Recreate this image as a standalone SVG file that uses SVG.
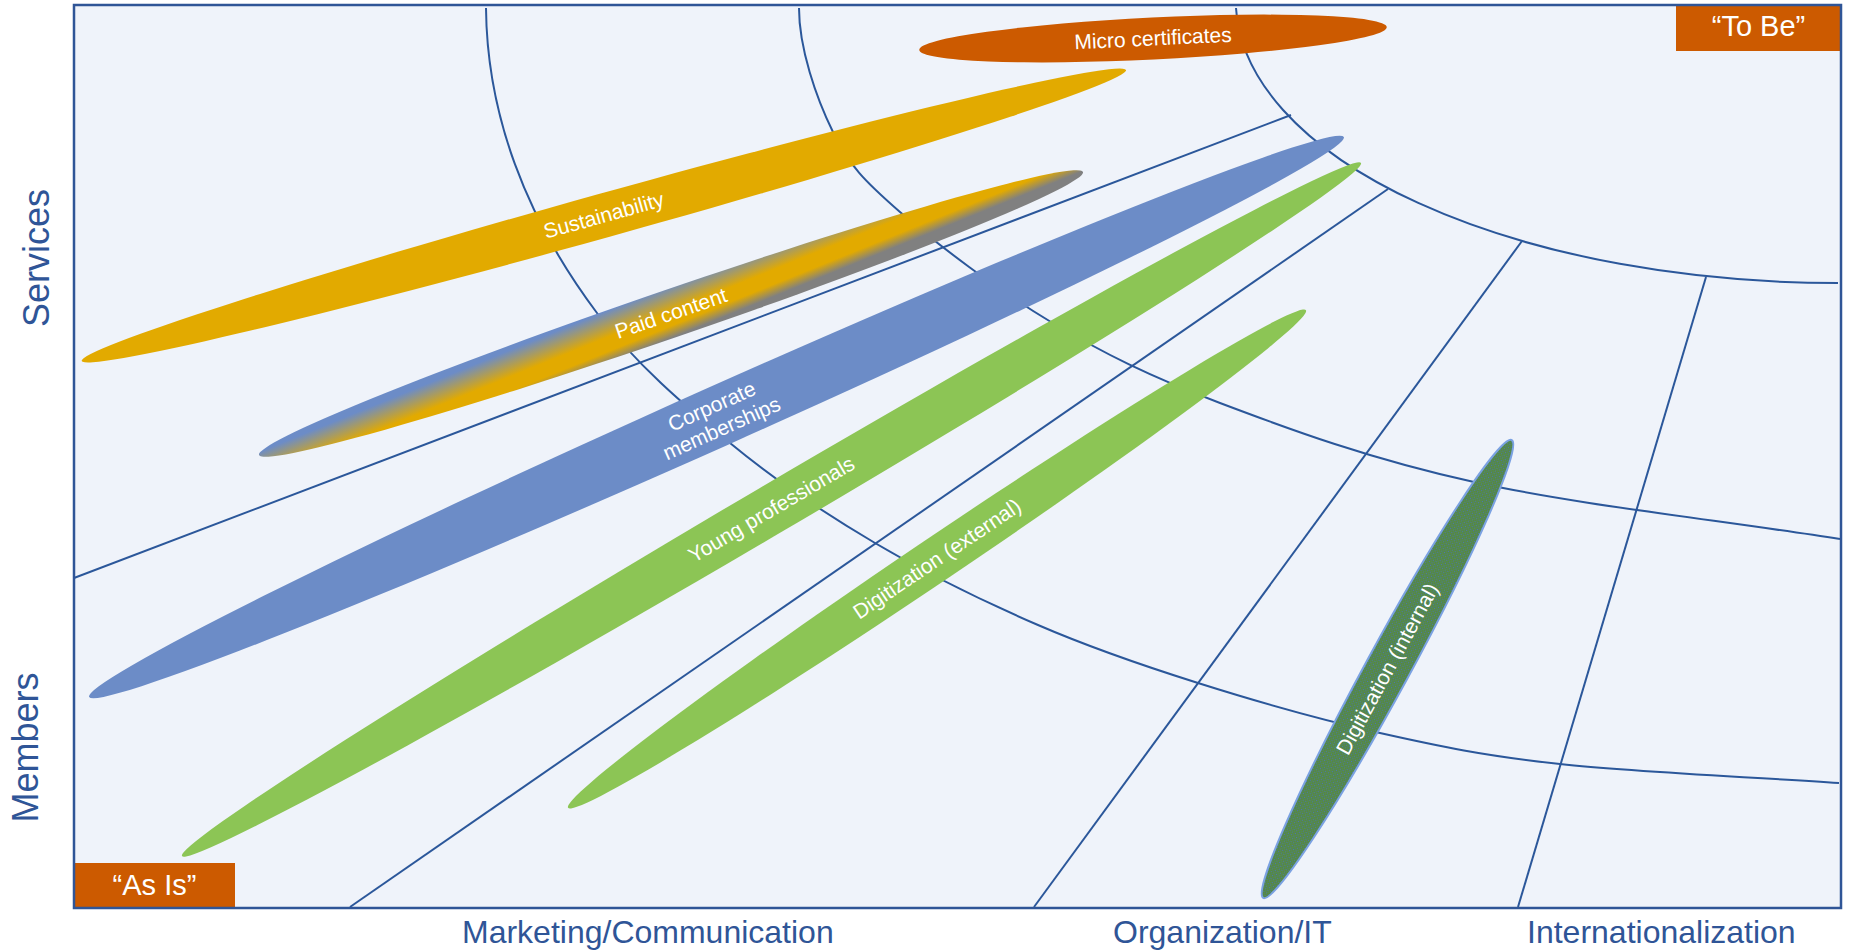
<svg xmlns="http://www.w3.org/2000/svg" width="1849" height="952" viewBox="0 0 1849 952">
<style>
text{font-family:'Liberation Sans',Arial,sans-serif}
.axis{fill:#2F5597;font-size:36px}
.cat{fill:#2F5597;font-size:32px}
.lbl{fill:#ffffff;font-size:21px;text-anchor:middle}
.corner{fill:#ffffff;font-size:29px;text-anchor:middle}
.grid{fill:none;stroke:#2B579A;stroke-width:2}
.box{fill:#CC5A00}
</style>
<defs>
<linearGradient id="paidGrad" x1="0" y1="0" x2="1" y2="1">
<stop offset="0" stop-color="#6C8CC7"/>
<stop offset="0.22" stop-color="#6C8CC7"/>
<stop offset="0.48" stop-color="#E2AA00"/>
<stop offset="0.62" stop-color="#E2AA00"/>
<stop offset="0.74" stop-color="#808080"/>
<stop offset="1" stop-color="#808080"/>
</linearGradient>
<pattern id="dots" patternUnits="userSpaceOnUse" width="3" height="3">
<rect width="3" height="3" fill="#568C38"/>
<rect width="1" height="1" fill="#4A72C0"/>
<rect x="1.5" y="1.5" width="1" height="1" fill="#4A72C0"/>
</pattern>
</defs>
<rect id="background" x="74" y="5" width="1767" height="903" fill="#EFF3FA"/>
<g id="connectors">
<path class="grid" d="M1236,8 A602,283 0 0 0 1838,283"/>
<path class="grid" d="M799,8 C799,48 816.2,98 833,132 C849.8,166 863.7,180.3 900,212 C936.3,243.7 997.7,290.2 1051,322 C1104.3,353.8 1149.5,376.3 1220,403 C1290.5,429.7 1370.7,459.3 1474,482 C1577.3,504.7 1718,520 1840,539"/>
<path class="grid" d="M486,8 A1364,782 0 0 0 597,313 C635.75,364 683.7,404.7 730,443 C776.3,481.3 823.7,512.7 875,543 C926.3,573.3 984.2,601.7 1038,625 C1091.8,648.3 1141,665 1198,683 C1255,701 1319.7,719.5 1380,733 C1440.3,746.5 1483.5,755.7 1560,764 C1636.5,772.3 1746,776.7 1839,783"/>
<path class="grid" d="M74,578 L1291,115"/>
<path class="grid" d="M350,907 L1388,189"/>
<path class="grid" d="M1034,907 L1522,241"/>
<path class="grid" d="M1518,907 L1706,277"/>
</g>
<g id="micro-certificates" transform="translate(1153,38.5) rotate(-2.8)">
<ellipse rx="234" ry="21" fill="#CC5A00"/>
<text class="lbl" x="0" y="7">Micro certificates</text>
</g>
<g id="sustainability" transform="translate(603.8,215.5) rotate(-15.57)">
<ellipse rx="542" ry="22" fill="#E2AA00"/>
<text class="lbl" x="0" y="7">Sustainability</text>
</g>
<g id="paid-content" transform="translate(671,313.5) rotate(-18.96)">
<ellipse rx="435.6" ry="24" fill="url(#paidGrad)"/>
<text class="lbl" x="0" y="7">Paid content</text>
</g>
<g id="corporate-memberships" transform="translate(716.5,417) rotate(-24.05)">
<ellipse rx="687" ry="30" fill="#6C8CC7"/>
<text class="lbl" x="0" y="-4.5">Corporate</text>
<text class="lbl" x="0" y="19.5">memberships</text>
</g>
<g id="young-professionals" transform="translate(771.5,509.5) rotate(-30.45)">
<ellipse rx="683.8" ry="24.5" fill="#8CC555"/>
<text class="lbl" x="0" y="7">Young professionals</text>
</g>
<g id="digitization-external" transform="translate(937,559) rotate(-34)">
<ellipse rx="445" ry="22" fill="#8CC555"/>
<text class="lbl" x="0" y="7">Digitization (external)</text>
</g>
<g id="digitization-internal" transform="translate(1387.5,669) rotate(-61.5)">
<ellipse rx="260.5" ry="22" fill="url(#dots)" stroke="#7BA2E2" stroke-width="2"/>
<text class="lbl" x="0" y="7">Digitization (internal)</text>
</g>
<g id="to-be">
<rect class="box" x="1676" y="5" width="165" height="46"/>
<text class="corner" x="1758.5" y="36">“To Be”</text>
</g>
<g id="as-is">
<rect class="box" x="74" y="863" width="161" height="45"/>
<text class="corner" x="154.5" y="895">“As Is”</text>
</g>
<rect id="frame" x="74" y="5" width="1767" height="903" fill="none" stroke="#2F5597" stroke-width="2.5"/>
<g id="axis-labels">
<text class="axis" text-anchor="middle" transform="translate(49,258) rotate(-90)">Services</text>
<text class="axis" text-anchor="middle" transform="translate(38,747.5) rotate(-90)">Members</text>
<text class="cat" x="462" y="943">Marketing/Communication</text>
<text class="cat" x="1113" y="943">Organization/IT</text>
<text class="cat" x="1527" y="943">Internationalization</text>
</g>
</svg>
